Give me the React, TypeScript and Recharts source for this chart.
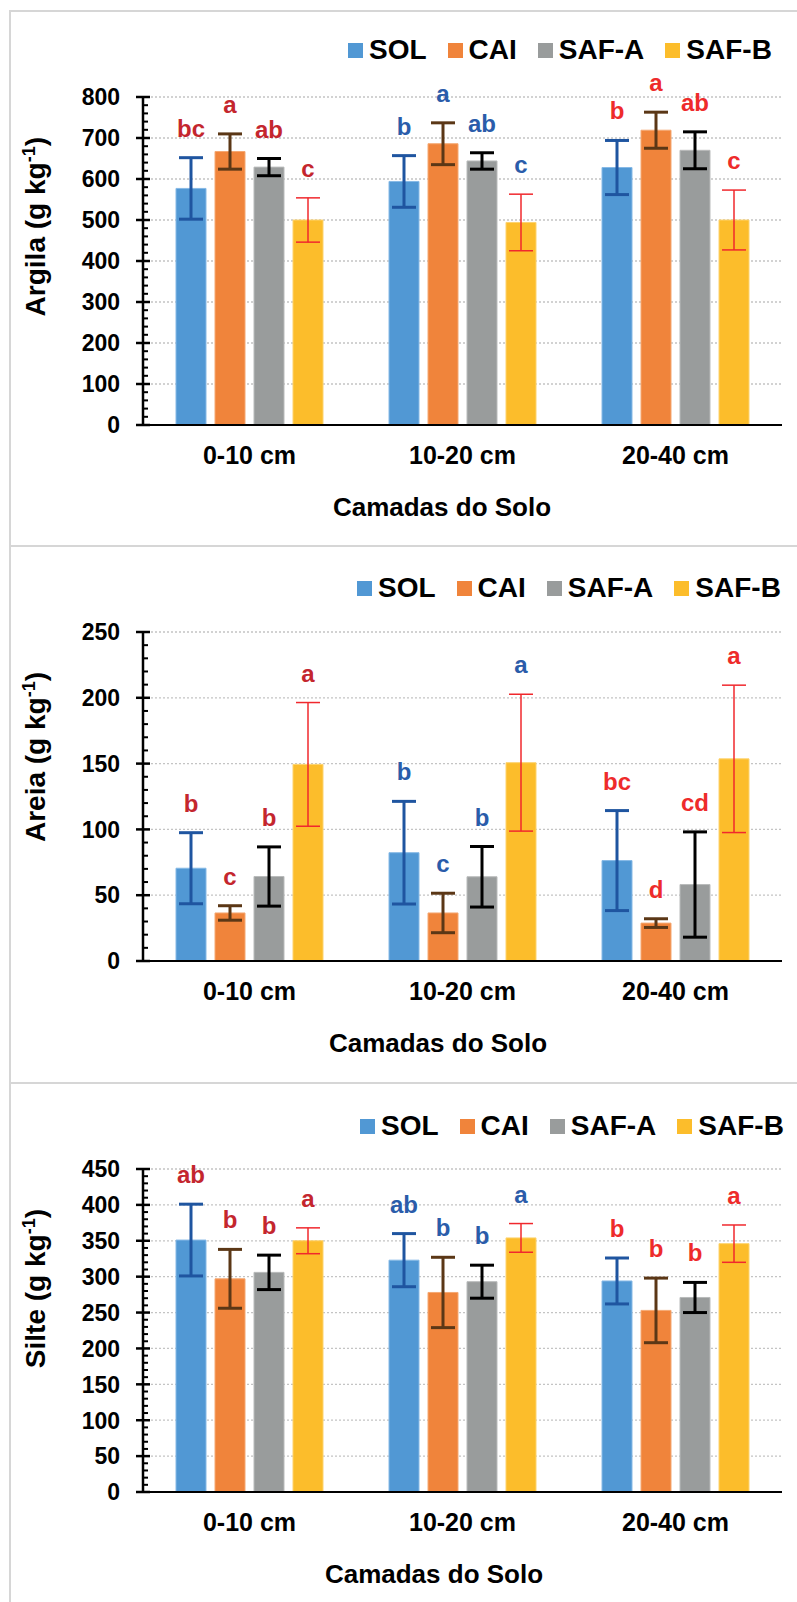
import React from 'react';
import { BarChart, Bar, XAxis, YAxis, CartesianGrid, ErrorBar, LabelList, Legend, Label } from 'recharts';

const FONT = '"Liberation Sans", Arial, sans-serif';

const categories = ['0-10 cm', '10-20 cm', '20-40 cm'];
const seriesNames = ['SOL', 'CAI', 'SAF-A', 'SAF-B'];
const seriesColors = ['#5198d4', '#f0843b', '#999c9c', '#fcbd2b'];
const seriesEdges = ['#86b9e6', '#f5a872', '#b9bbbb', '#fdd36e'];
const errorColors = ['#1f55a0', '#5b3716', '#000000', '#f0282d'];
const errorWidths = [3, 3, 3, 1.5];
// letter colour for each soil layer group
const letterColors = ['#c4262e', '#2a5caa', '#ee2b2b'];

// Argila — rows: SOL, CAI, SAF-A, SAF-B ; columns: categories
const argilaMeans = [
  [577, 594, 628],
  [667, 686, 719],
  [629, 644, 670],
  [500, 494, 500],
];
const argilaErrors = [
  [75, 63, 66],
  [43, 51, 44],
  [21, 20, 45],
  [54, 69, 73],
];
const argilaLetters = [
  ['bc', 'b', 'b'],
  ['a', 'a', 'a'],
  ['ab', 'ab', 'ab'],
  ['c', 'c', 'c'],
];
const argilaTicks = [0, 100, 200, 300, 400, 500, 600, 700, 800];

// Areia
const areiaMeans = [
  [70.5, 82.3, 76.3],
  [36.5, 36.5, 28.8],
  [64.2, 64, 58.1],
  [149.4, 150.7, 153.6],
];
const areiaErrors = [
  [27, 39, 38],
  [5.5, 15, 3.3],
  [22.5, 23, 40],
  [47, 52, 56],
];
const areiaLetters = [
  ['b', 'b', 'bc'],
  ['c', 'c', 'd'],
  ['b', 'b', 'cd'],
  ['a', 'a', 'a'],
];
const areiaTicks = [0, 50, 100, 150, 200, 250];

// Silte
const silteMeans = [
  [351, 323, 294],
  [297, 278, 253],
  [306, 293, 271],
  [350, 354, 346],
];
const silteErrors = [
  [50, 37, 32],
  [41, 49, 45],
  [24, 23, 21],
  [18, 20, 26],
];
const silteLetters = [
  ['ab', 'ab', 'b'],
  ['b', 'b', 'b'],
  ['b', 'b', 'b'],
  ['a', 'a', 'a'],
];
const silteTicks = [0, 50, 100, 150, 200, 250, 300, 350, 400, 450];

function buildRows(means: number[][], errors: number[][], letters: string[][]) {
  return categories.map((name, i) => {
    const row: any = { name };
    seriesNames.forEach((_, s) => {
      row[`m${s}`] = means[s][i];
      row[`e${s}`] = errors[s][i];
      row[`l${s}`] = letters[s][i];
    });
    return row;
  });
}

const LegendRow = () => (
  <div
    style={{
      display: 'flex',
      alignItems: 'center',
      fontFamily: FONT,
      fontWeight: 'bold',
      fontSize: 28,
      color: '#000',
      whiteSpace: 'nowrap',
    }}
  >
    {seriesNames.map((n, i) => (
      <div key={n} style={{ display: 'flex', alignItems: 'center', marginRight: i < 3 ? 21 : 0 }}>
        <span
          style={{ display: 'inline-block', width: 15, height: 15, background: seriesColors[i], marginRight: 6 }}
        />
        <span>{n}</span>
      </div>
    ))}
  </div>
);

const makeYTick = (majors: number[]) => (props: any) => {
  const { x, y, payload } = props;
  const major = majors.includes(payload.value);
  return (
    <g>
      {major ? (
        <line x1={x - 7} x2={x + 7} y1={y} y2={y} stroke="#000" strokeWidth={2.5} />
      ) : (
        <line x1={x} x2={x + 5} y1={y} y2={y} stroke="#000" strokeWidth={2} />
      )}
      {major && (
        <text
          x={x - 23}
          y={y}
          dy="0.36em"
          textAnchor="end"
          fontFamily={FONT}
          fontWeight="bold"
          fontSize={23}
          fill="#000"
        >
          {payload.value}
        </text>
      )}
    </g>
  );
};

const XTick = (props: any) => (
  <text
    x={props.x}
    y={props.y + 39}
    textAnchor="middle"
    fontFamily={FONT}
    fontWeight="bold"
    fontSize={25}
    fill="#000"
  >
    {props.payload.value}
  </text>
);

const makeLetter = (rows: any[], s: number) => (props: any) => {
  const vb = props.viewBox || {};
  const x = vb.x ?? props.x;
  const y = vb.y ?? props.y;
  const w = vb.width ?? props.width;
  const h = vb.height ?? props.height;
  const row = rows[props.index];
  if (!row) return null;
  const ppu = h / row[`m${s}`];
  const top = y - row[`e${s}`] * ppu;
  return (
    <text
      x={x + w / 2}
      y={top - 21}
      textAnchor="middle"
      fontFamily={FONT}
      fontWeight="bold"
      fontSize={24}
      fill={letterColors[props.index]}
    >
      {row[`l${s}`]}
    </text>
  );
};

type PanelProps = {
  top: number;
  height: number;
  bottom: number;
  title: string;
  means: number[][];
  errors: number[][];
  letters: string[][];
  ticks: number[];
  minorStep: number;
  legendLeft: number;
  legendTop: number;
  xTitleX: number;
};

const MARGIN_TOP = 87;

function Panel(p: PanelProps) {
  const rows = buildRows(p.means, p.errors, p.letters);
  const max = p.ticks[p.ticks.length - 1];
  const allTicks = Array.from({ length: max / p.minorStep + 1 }, (_, i) => i * p.minorStep);
  const plotBottom = p.height - p.bottom - 30;
  return (
    <div style={{ position: 'absolute', left: 0, top: p.top, width: 797, height: p.height }}>
      <BarChart
        width={797}
        height={p.height}
        data={rows}
        margin={{ top: MARGIN_TOP, right: 15, bottom: p.bottom, left: 43 }}
        barSize={30}
        barGap={9}
      >
        <CartesianGrid
          vertical={false}
          horizontalValues={p.ticks}
          stroke="#c4c4c4"
          strokeDasharray="2 2"
          strokeWidth={1.3}
        />
        <XAxis
          dataKey="name"
          height={30}
          tickLine={false}
          tickSize={0}
          tickMargin={0}
          axisLine={{ stroke: '#000', strokeWidth: 2 }}
          tick={XTick}
        >
          <Label
            content={() => (
              <text
                x={p.xTitleX}
                y={plotBottom + 90.5}
                textAnchor="middle"
                fontFamily={FONT}
                fontWeight="bold"
                fontSize={26}
                fill="#000"
              >
                Camadas do Solo
              </text>
            )}
          />
        </XAxis>
        <YAxis
          width={100}
          domain={[0, max]}
          ticks={allTicks}
          interval={0}
          tickLine={false}
          tickSize={0}
          tickMargin={0}
          axisLine={{ stroke: '#000', strokeWidth: 2.5 }}
          tick={makeYTick(p.ticks)}
        >
          <Label
            content={() => (
              <text
                x={45}
                y={MARGIN_TOP + 40}
                transform={`rotate(-90, 45, ${MARGIN_TOP + 40})`}
                textAnchor="end"
                fontFamily={FONT}
                fontWeight="bold"
                fontSize={28}
                fill="#000"
              >
                {p.title} (g kg
                <tspan dy={-10} fontSize={18}>
                  -1
                </tspan>
                <tspan dy={10}>)</tspan>
              </text>
            )}
          />
        </YAxis>
        <Legend
          layout="vertical"
          align="center"
          verticalAlign="middle"
          content={LegendRow}
          wrapperStyle={{ left: p.legendLeft, top: p.legendTop, width: 'auto', height: 'auto' }}
        />
        {seriesNames.map((n, s) => (
          <Bar
            key={n}
            dataKey={`m${s}`}
            name={n}
            fill={seriesColors[s]}
            stroke={seriesEdges[s]}
            strokeWidth={1}
            isAnimationActive={false}
          >
            <ErrorBar
              dataKey={`e${s}`}
              width={12}
              stroke={errorColors[s]}
              strokeWidth={errorWidths[s]}
              isAnimationActive={false}
            />
            <LabelList dataKey={`l${s}`} content={makeLetter(rows, s)} />
          </Bar>
        ))}
      </BarChart>
    </div>
  );
}

const border = '2px solid #d6d6d6';

export default function App() {
  return (
    <div style={{ position: 'absolute', left: 0, top: 0, width: 797, height: 1602, background: '#fff', overflow: 'hidden' }}>
      <div style={{ position: 'absolute', left: 9, top: 10, width: 800, height: 1600, borderTop: border, borderLeft: border }} />
      <div style={{ position: 'absolute', left: 9, top: 545, width: 800, height: 2, background: '#d6d6d6' }} />
      <div style={{ position: 'absolute', left: 9, top: 1082, width: 800, height: 2, background: '#d6d6d6' }} />
      <Panel
        top={10}
        height={535}
        bottom={90}
        title="Argila"
        means={argilaMeans}
        errors={argilaErrors}
        letters={argilaLetters}
        ticks={argilaTicks}
        minorStep={20}
        legendLeft={348}
        legendTop={24}
        xTitleX={442}
      />
      <Panel
        top={545}
        height={537}
        bottom={91}
        title="Areia"
        means={areiaMeans}
        errors={areiaErrors}
        letters={areiaLetters}
        ticks={areiaTicks}
        minorStep={10}
        legendLeft={357}
        legendTop={27}
        xTitleX={438}
      />
      <Panel
        top={1082}
        height={520}
        bottom={80}
        title="Silte"
        means={silteMeans}
        errors={silteErrors}
        letters={silteLetters}
        ticks={silteTicks}
        minorStep={10}
        legendLeft={360}
        legendTop={28}
        xTitleX={434}
      />
    </div>
  );
}
